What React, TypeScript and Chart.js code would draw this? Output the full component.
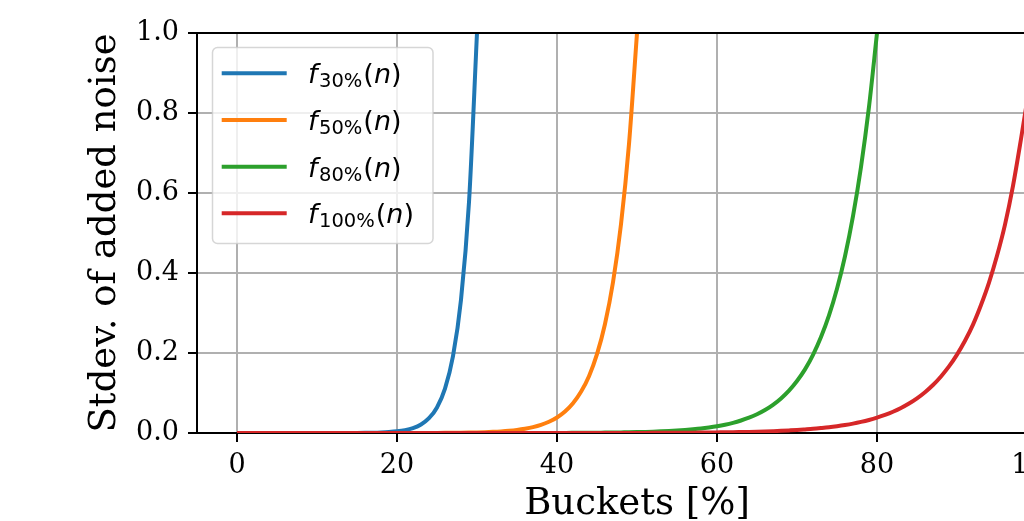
import React, { useEffect, useRef } from "react";
import { Chart, registerables } from "chart.js";

Chart.register(...registerables);

// ---- data ----
const xTickValues = [0, 20, 40, 60, 80, 100];
const xTickLabels = ["0", "20", "40", "60", "80", "100"];
const yTickValues = [0, 0.2, 0.4, 0.6, 0.8, 1.0];
const yTickLabels = ["0.0", "0.2", "0.4", "0.6", "0.8", "1.0"];

const seriesSubscripts = ["30%", "50%", "80%", "100%"];
const seriesColors = ["#1f77b4", "#ff7f0e", "#2ca02c", "#d62728"];

// y values at buckets n = 0, 1, 2, ... (index = bucket %)
const f30 = [
  0, 0, 0, 0, 0, 0, 0, 0, 0, 0,
  0, 0, 0, 0, 0.0002, 0.0003, 0.0005, 0.0008, 0.0014, 0.0024,
  0.0041, 0.0071, 0.0123, 0.0213, 0.0369, 0.0639, 0.111, 0.192, 0.333, 0.577,
  1.0,
];
const f50 = [
  0, 0, 0, 0, 0, 0, 0, 0, 0, 0,
  0, 0, 0, 0, 0, 0, 0, 0, 0, 0,
  0, 0, 0, 0.0002, 0.0002, 0.0003, 0.0004, 0.0006, 0.0008, 0.0011,
  0.0015, 0.0021, 0.0029, 0.004, 0.0055, 0.0076, 0.0106, 0.0146, 0.0202, 0.028,
  0.0388, 0.0537, 0.0743, 0.103, 0.142, 0.197, 0.2725, 0.377, 0.522, 0.7225,
  1.0,
];
const f80 = [
  0, 0, 0, 0, 0, 0, 0, 0, 0, 0,
  0, 0, 0, 0, 0, 0, 0, 0, 0, 0,
  0, 0, 0, 0, 0, 0, 0, 0, 0, 0,
  0, 0, 0, 0, 0, 0, 0, 0, 0.0002, 0.0002,
  0.0003, 0.0003, 0.0004, 0.0005, 0.0006, 0.0008, 0.001, 0.0012, 0.0015, 0.0018,
  0.0022, 0.0027, 0.0033, 0.0041, 0.005, 0.0061, 0.0075, 0.0092, 0.0112, 0.0138,
  0.0169, 0.0207, 0.0254, 0.0312, 0.0382, 0.0469, 0.0575, 0.0705, 0.0865, 0.106,
  0.13, 0.159, 0.1955, 0.24, 0.294, 0.3606, 0.442, 0.542, 0.665, 0.8155,
  1.0,
];
const f100 = [
  0, 0, 0, 0, 0, 0, 0, 0, 0, 0,
  0, 0, 0, 0, 0, 0, 0, 0, 0, 0,
  0, 0, 0, 0, 0, 0, 0, 0, 0, 0,
  0, 0, 0, 0, 0, 0, 0, 0, 0, 0,
  0, 0, 0, 0, 0, 0, 0, 0.0002, 0.0002, 0.0002,
  0.0003, 0.0003, 0.0004, 0.0005, 0.0006, 0.0007, 0.0008, 0.0009, 0.0011, 0.0013,
  0.0015, 0.0017, 0.002, 0.0024, 0.0028, 0.0033, 0.0039, 0.0046, 0.0054, 0.0064,
  0.0075, 0.0089, 0.0104, 0.0123, 0.0144, 0.017, 0.02, 0.0235, 0.0277, 0.0326,
  0.0384, 0.0452, 0.0532, 0.0626, 0.0737, 0.0867, 0.102, 0.12, 0.1414, 0.1664,
  0.196, 0.2305, 0.271, 0.32, 0.376, 0.443, 0.521, 0.618, 0.735, 0.86,
  1.0,
];
const seriesValues = [f30, f50, f80, f100];

const TICK_FONT = { family: "'DejaVu Serif'", size: 27 };
const TITLE_FONT = { family: "'DejaVu Serif'", size: 37 };

const framePlugin = {
  id: "mplFrame",
  afterDraw(chart: any) {
    const { ctx, chartArea } = chart;
    const { left, top, right, bottom } = chartArea;
    ctx.save();
    // top & right spines
    ctx.strokeStyle = "#000";
    ctx.lineWidth = 2;
    ctx.beginPath();
    ctx.moveTo(left, top);
    ctx.lineTo(right, top);
    ctx.lineTo(right, bottom);
    ctx.stroke();

    // legend
    const bx = left + 15.5;
    const by = top + 14.5;
    const bw = 220.5;
    const bh = 196;
    ctx.beginPath();
    ctx.roundRect(bx, by, bw, bh, 5);
    ctx.fillStyle = "rgba(255,255,255,0.8)";
    ctx.fill();
    ctx.strokeStyle = "rgba(204,204,204,0.8)";
    ctx.lineWidth = 1.5;
    ctx.stroke();

    for (let i = 0; i < seriesSubscripts.length; i++) {
      const cy = top + 40.3 + i * 46.67;
      ctx.strokeStyle = seriesColors[i];
      ctx.lineWidth = 4;
      ctx.lineCap = "butt";
      ctx.beginPath();
      ctx.moveTo(left + 24.7, cy);
      ctx.lineTo(left + 89.7, cy);
      ctx.stroke();

      const base = cy + 10;
      let x = left + 111;
      ctx.fillStyle = "#000";
      ctx.textBaseline = "alphabetic";
      ctx.textAlign = "left";
      ctx.font = "italic 27px 'DejaVu Sans'";
      ctx.fillText("f", x, base);
      x += ctx.measureText("f").width + 1.5;
      ctx.font = "19.5px 'DejaVu Sans'";
      ctx.fillText(seriesSubscripts[i], x, base + 4);
      x += ctx.measureText(seriesSubscripts[i]).width + 1;
      ctx.font = "27px 'DejaVu Sans'";
      ctx.fillText("(", x, base);
      x += ctx.measureText("(").width;
      ctx.font = "italic 27px 'DejaVu Sans'";
      ctx.fillText("n", x, base);
      x += ctx.measureText("n").width;
      ctx.font = "27px 'DejaVu Sans'";
      ctx.fillText(")", x, base);
    }
    ctx.restore();
  },
};

export default function App() {
  const canvasRef = useRef<HTMLCanvasElement | null>(null);

  useEffect(() => {
    const canvas = canvasRef.current;
    if (!canvas) return;
    const datasets = seriesValues.map((vals, i) => ({
      label: "f" + seriesSubscripts[i] + "(n)",
      data: vals.map((y, n) => ({ x: n, y })),
      borderColor: seriesColors[i],
      backgroundColor: seriesColors[i],
      borderWidth: 4,
      pointRadius: 0,
      cubicInterpolationMode: "monotone" as const,
      fill: false,
      order: seriesValues.length - i,
    }));

    const chart = new Chart(canvas, {
      type: "line",
      data: { datasets },
      options: {
        animation: false,
        responsive: false,
        devicePixelRatio: 1,
        layout: { padding: { left: 0, top: 33, right: 23, bottom: 0 } },
        plugins: { legend: { display: false }, tooltip: { enabled: false } },
        scales: {
          x: {
            type: "linear",
            min: -5,
            max: 105,
            afterBuildTicks: (scale: any) => {
              scale.ticks = xTickValues.map((v) => ({ value: v }));
            },
            afterFit: (scale: any) => {
              scale.height = 107;
            },
            ticks: {
              font: TICK_FONT,
              color: "#000",
              padding: 8,
              maxRotation: 0,
              autoSkip: false,
              callback: (_v: any, i: number) => xTickLabels[i],
            },
            grid: {
              color: "#b0b0b0",
              lineWidth: 2,
              tickLength: 9,
              tickColor: "#000",
              tickWidth: 2,
            },
            border: { display: true, color: "#000", width: 2 },
            title: {
              display: true,
              text: "Buckets [%]",
              font: TITLE_FONT,
              color: "#000",
              padding: { top: 0, bottom: 13.6 },
            },
          },
          y: {
            type: "linear",
            min: 0,
            max: 1,
            afterBuildTicks: (scale: any) => {
              scale.ticks = yTickValues.map((v) => ({ value: v }));
            },
            afterFit: (scale: any) => {
              scale.width = 197;
            },
            ticks: {
              font: TICK_FONT,
              color: "#000",
              padding: 9,
              autoSkip: false,
              callback: (_v: any, i: number) => yTickLabels[i],
            },
            grid: {
              color: "#b0b0b0",
              lineWidth: 2,
              tickLength: 9,
              tickColor: "#000",
              tickWidth: 2,
            },
            border: { display: true, color: "#000", width: 2 },
            title: {
              display: true,
              text: "Stdev. of added noise",
              font: TITLE_FONT,
              color: "#000",
              padding: { top: 83, bottom: 0 },
            },
          },
        },
      },
      plugins: [framePlugin],
    });
    return () => chart.destroy();
  }, []);

  return (
    <div
      style={{
        position: "fixed",
        left: 0,
        top: 0,
        width: 1024,
        height: 521,
        overflow: "hidden",
        background: "#fff",
      }}
    >
      <canvas ref={canvasRef} width={1100} height={540} style={{ display: "block" }} />
    </div>
  );
}
